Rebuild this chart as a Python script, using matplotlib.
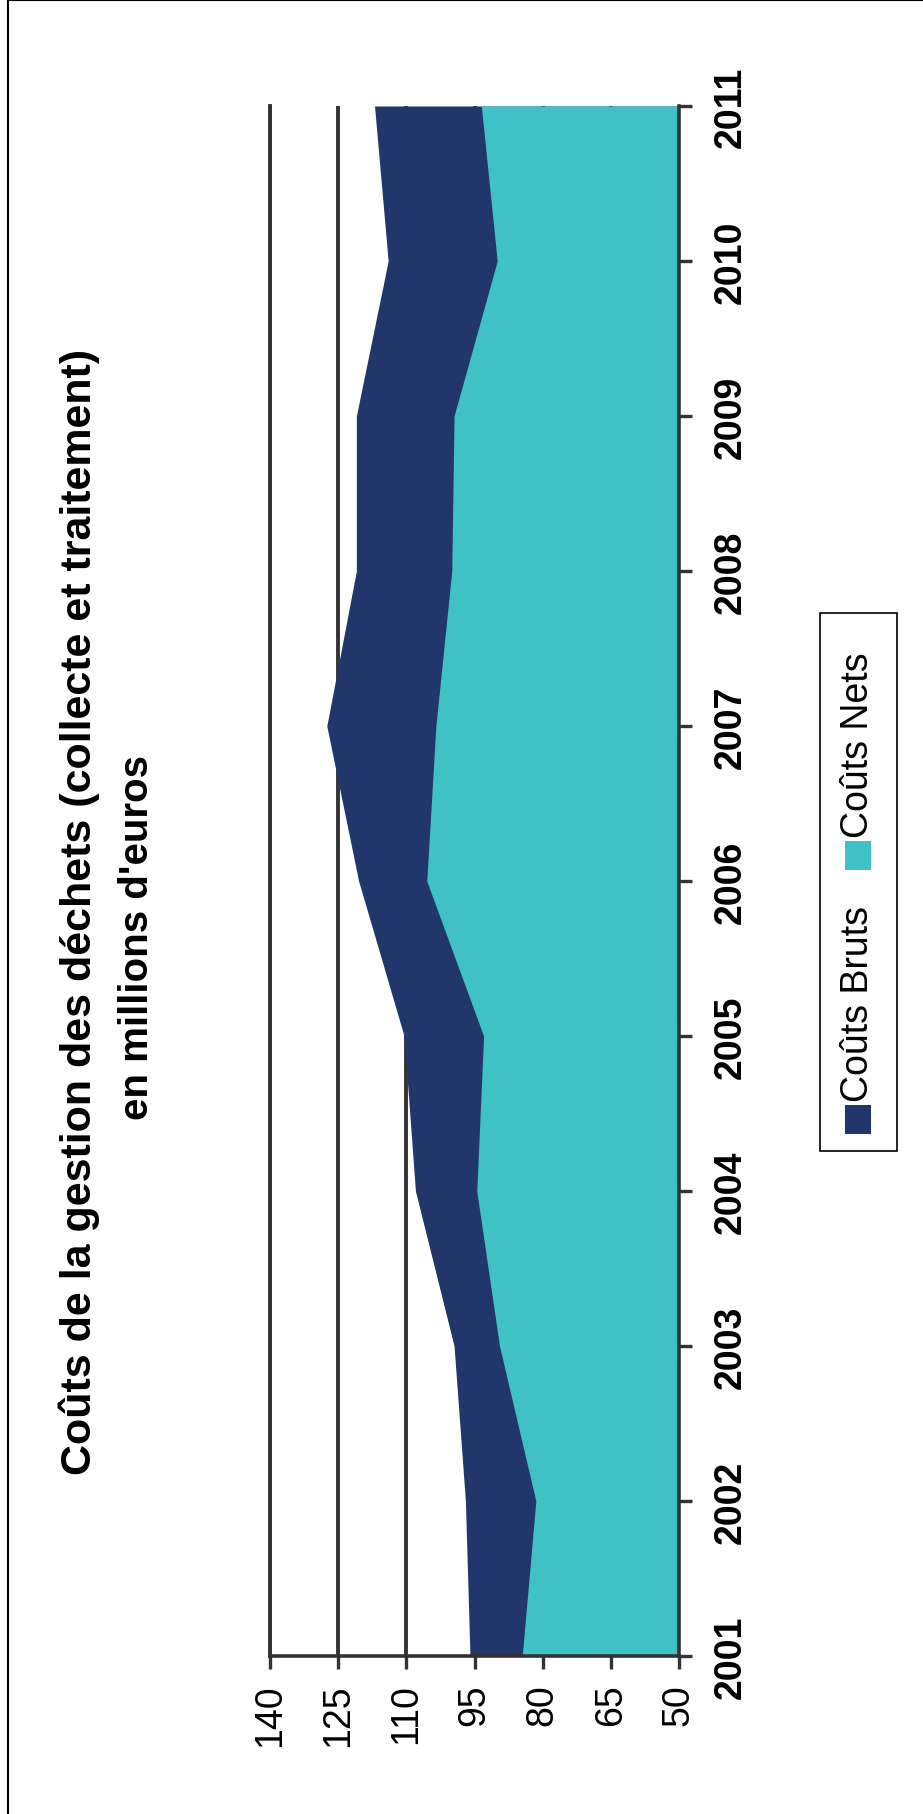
import matplotlib
matplotlib.use('Agg')
import matplotlib.pyplot as plt
from matplotlib.patches import Rectangle
from matplotlib.lines import Line2D
from matplotlib.transforms import Bbox, TransformedBbox

plt.rcParams['font.family'] = ['Liberation Sans', 'DejaVu Sans']

# donnees (millions d'euros)
years = [2001, 2002, 2003, 2004, 2005, 2006, 2007, 2008, 2009, 2010, 2011]
couts_bruts = [96, 97, 99.5, 108, 110.5, 120.5, 127.5, 121, 121, 114, 117]
couts_nets = [84.5, 81.5, 89.5, 94.5, 93, 105.5, 103.5, 100, 99.5, 90, 93.5]
series_names = ['Coûts Bruts', 'Coûts Nets']
series_colors = ['#21376b', '#40c1c5']
value_ticks = [140, 125, 110, 95, 80, 65, 50]
title_lines = ["Coûts de la gestion des déchets (collecte et traitement)",
               "en millions d'euros"]

W, H = 923, 1815
fig = plt.figure(figsize=(W / 100, H / 100), dpi=100)

def fx(px):
    return px / W

def fy(py):
    return 1 - py / H

# le graphique est tourne de 90 degres : valeurs en x (inverse), annees en y
ax = fig.add_axes([fx(270), fy(1657), fx(679) - fx(270), fy(107) - fy(1657)])
ax.fill_betweenx(years, 50, couts_bruts, color=series_colors[0], lw=0, zorder=2)
ax.fill_betweenx(years, 50, couts_nets, color=series_colors[1], lw=0, zorder=3)
ax.set_xlim(140, 50)
ax.set_ylim(2001, 2011)

ax.set_xticks(value_ticks)
ax.set_xticklabels([str(v) for v in value_ticks], rotation=90, fontsize=27)
ax.yaxis.tick_right()
ax.set_yticks(years)
ax.set_yticklabels([str(y) for y in years], rotation=90, fontsize=27,
                   fontweight='bold', va='center')

ax.grid(axis='x', color='#333333', lw=2.8)
ax.grid(axis='y', visible=False)
ax.set_axisbelow(True)
ax.spines['top'].set_visible(False)
ax.spines['left'].set_color('#333333'); ax.spines['left'].set_linewidth(2.8)
ax.spines['bottom'].set_color('#333333'); ax.spines['bottom'].set_linewidth(2.6)
ax.spines['right'].set_color('#333333'); ax.spines['right'].set_linewidth(2.6)
ax.spines['bottom'].set_zorder(5); ax.spines['right'].set_zorder(5)
ax.tick_params(axis='x', direction='out', length=9.5, width=2.4, pad=10,
               color='#333333', labelcolor='black')
ax.tick_params(axis='y', direction='out', length=9, width=2.4, pad=15,
               left=False, right=True, color='#333333', labelcolor='black')

# l'image d'origine coupe le bas des etiquettes
clip = TransformedBbox(Bbox([[0, fy(1750)], [1, 1]]), fig.transFigure)
for lbl in ax.get_xticklabels():
    lbl.set_clip_on(True)
    lbl.set_clip_box(clip)

# titre
fig.text(fx(79), fy(912), title_lines[0], rotation=90, ha='center', va='center',
         fontsize=31, fontweight='bold')
fig.text(fx(137), fy(938), title_lines[1], rotation=90, ha='center', va='center',
         fontsize=29, fontweight='bold')

# legende (dessinee a la main car tournee)
fig.add_artist(Rectangle((fx(820), fy(1152)), fx(897) - fx(820), fy(614) - fy(1152),
                         transform=fig.transFigure, fill=False, ec='black', lw=1.2))
sq_top = [1106, 842]
txt_start = [1102, 838]
for i in range(len(series_names)):
    fig.add_artist(Rectangle((fx(845), fy(sq_top[i] + 29)), 26 / W, 29 / H,
                             transform=fig.transFigure, fc=series_colors[i], ec='none'))
    fig.text(fx(858), fy(txt_start[i]), series_names[i], rotation=90,
             ha='center', va='bottom', fontsize=27)

# cadre
fig.add_artist(Line2D([fx(8), fx(8)], [0, 1], color='black', lw=1.5, transform=fig.transFigure))
fig.add_artist(Line2D([fx(8), 1], [fy(1), fy(1)], color='black', lw=1.5, transform=fig.transFigure))

fig.savefig('out.png', dpi=100)
